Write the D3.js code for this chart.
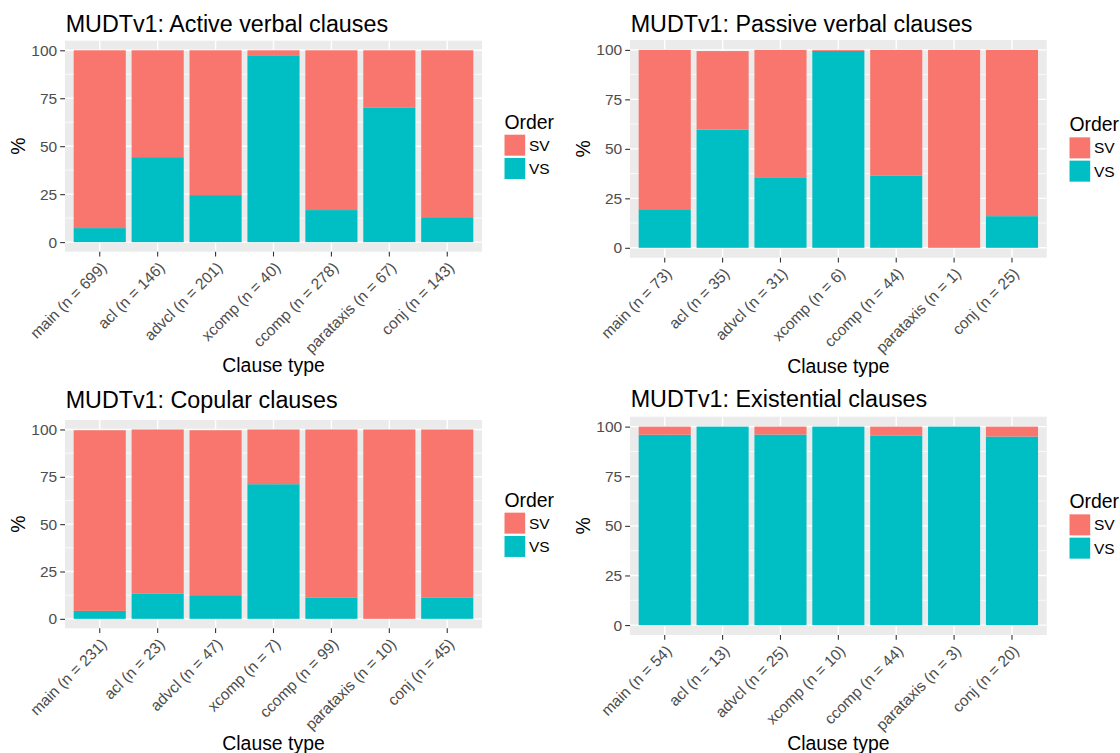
<!DOCTYPE html>
<html>
<head>
<meta charset="utf-8">
<script src="https://cdn.jsdelivr.net/npm/d3@7"></script>
<style>
  html, body { margin: 0; padding: 0; background: #fff; }
  svg { display: block; font-family: "Liberation Sans", Arial, Helvetica, sans-serif; }
</style>
</head>
<body>
<div id="chart"></div>
<script>
// Dades (percentatge de cada ordre per tipus de clàusula)
const activeLabels = ['main (n = 699)', 'acl (n = 146)', 'advcl (n = 201)', 'xcomp (n = 40)', 'ccomp (n = 278)', 'parataxis (n = 67)', 'conj (n = 143)'];
const activeVS = [7.3, 44.3, 24.5, 97.4, 16.7, 70.0, 13.0];
const activeSV = [92.7, 55.7, 75.5, 2.6, 83.3, 30.0, 87.0];

const passiveLabels = ['main (n = 73)', 'acl (n = 35)', 'advcl (n = 31)', 'xcomp (n = 6)', 'ccomp (n = 44)', 'parataxis (n = 1)', 'conj (n = 25)'];
const passiveVS = [19.1, 59.7, 35.3, 99.5, 36.4, 0, 16.0];
const passiveSV = [80.9, 39.7, 64.7, 0.5, 63.6, 100, 84.0];

const copularLabels = ['main (n = 231)', 'acl (n = 23)', 'advcl (n = 47)', 'xcomp (n = 7)', 'ccomp (n = 99)', 'parataxis (n = 10)', 'conj (n = 45)'];
const copularVS = [4.2, 13.2, 12.5, 71.1, 11.1, 0, 11.1];
const copularSV = [95.4, 86.8, 87.1, 28.9, 88.9, 100, 88.9];

const existLabels = ['main (n = 54)', 'acl (n = 13)', 'advcl (n = 25)', 'xcomp (n = 10)', 'ccomp (n = 44)', 'parataxis (n = 3)', 'conj (n = 20)'];
const existVS = [95.9, 100, 96.0, 100, 95.4, 100, 95.0];
const existSV = [4.1, 0, 4.0, 0, 4.6, 0, 5.0];

const orderKeys = ['SV', 'VS'];
const yTicks = [0, 25, 50, 75, 100];
const yMinor = [12.5, 37.5, 62.5, 87.5];

const colors = { SV: '#F8766D', VS: '#00BFC4' };

// Disposició de cada gràfic
const panels = [
    { title: 'MUDTv1: Active verbal clauses', labels: activeLabels, sv: activeSV, vs: activeVS,
      box: { x0: 65, x1: 482, y0: 40.7, y1: 251.7 }, titleY: 32.3, yTitleX: 18, xTitleY: 372.3, legendX: 504.5 },
    { title: 'MUDTv1: Passive verbal clauses', labels: passiveLabels, sv: passiveSV, vs: passiveVS,
      box: { x0: 630, x1: 1046.7, y0: 40, y1: 257.7 }, titleY: 32.3, yTitleX: 583, xTitleY: 373, legendX: 1069.5 },
    { title: 'MUDTv1: Copular clauses', labels: copularLabels, sv: copularSV, vs: copularVS,
      box: { x0: 65, x1: 482, y0: 420, y1: 628.3 }, titleY: 408.3, yTitleX: 18, xTitleY: 750, legendX: 504.5 },
    { title: 'MUDTv1: Existential clauses', labels: existLabels, sv: existSV, vs: existVS,
      box: { x0: 630, x1: 1046.7, y0: 416.7, y1: 635 }, titleY: 406.7, yTitleX: 583, xTitleY: 750, legendX: 1069.5 }
];

const svg = d3.select('#chart')
    .append('svg')
    .attr('width', 1120)
    .attr('height', 753);

panels.forEach(p => {
    const b = p.box;
    const g = svg.append('g');

    const x = d3.scaleBand()
        .domain(p.labels)
        .range([b.x0, b.x1])
        .paddingInner(0.1)
        .paddingOuter(0.15);

    const y = d3.scaleLinear()
        .domain([-5, 105])
        .range([b.y1, b.y0]);

    // Fons del panell
    g.append('rect')
        .attr('x', b.x0)
        .attr('y', b.y0)
        .attr('width', b.x1 - b.x0)
        .attr('height', b.y1 - b.y0)
        .attr('fill', '#EBEBEB');

    // Quadrícula
    g.selectAll('.minor')
        .data(yMinor)
        .enter()
        .append('line')
        .attr('x1', b.x0).attr('x2', b.x1)
        .attr('y1', d => y(d)).attr('y2', d => y(d))
        .attr('stroke', '#fff')
        .attr('stroke-width', 0.7);

    g.selectAll('.major')
        .data(yTicks)
        .enter()
        .append('line')
        .attr('x1', b.x0).attr('x2', b.x1)
        .attr('y1', d => y(d)).attr('y2', d => y(d))
        .attr('stroke', '#fff')
        .attr('stroke-width', 1.4);

    g.selectAll('.vgrid')
        .data(p.labels)
        .enter()
        .append('line')
        .attr('x1', d => x(d) + x.bandwidth() / 2)
        .attr('x2', d => x(d) + x.bandwidth() / 2)
        .attr('y1', b.y0).attr('y2', b.y1)
        .attr('stroke', '#fff')
        .attr('stroke-width', 1.4);

    // Barres apilades (VS a baix, SV a dalt)
    const rows = p.labels.map((label, i) => ({ label, SV: p.sv[i], VS: p.vs[i] }));
    const stacked = d3.stack().keys(['VS', 'SV'])(rows);

    stacked.forEach(layer => {
        g.selectAll(null)
            .data(layer)
            .enter()
            .append('rect')
            .attr('x', d => x(d.data.label))
            .attr('width', x.bandwidth())
            .attr('y', d => y(d[1]))
            .attr('height', d => Math.max(0, y(d[0]) - y(d[1])))
            .attr('fill', colors[layer.key]);
    });

    // Eix Y
    const yAxis = g.append('g')
        .attr('transform', `translate(${b.x0},0)`)
        .call(d3.axisLeft(y).tickValues(yTicks).tickSize(4.8).tickPadding(3));
    yAxis.select('.domain').remove();
    yAxis.selectAll('.tick line').attr('stroke', '#333').attr('stroke-width', 1.1);
    yAxis.selectAll('.tick text')
        .attr('fill', '#4D4D4D')
        .attr('font-size', '15.5px')
        .attr('font-family', '"Liberation Sans", Arial, sans-serif');

    // Eix X
    const xAxis = g.append('g')
        .attr('transform', `translate(0,${b.y1})`)
        .call(d3.axisBottom(x).tickSize(4.8).tickSizeOuter(0));
    xAxis.select('.domain').remove();
    xAxis.selectAll('.tick line').attr('stroke', '#333').attr('stroke-width', 1.1);
    xAxis.selectAll('.tick text')
        .attr('fill', '#4D4D4D')
        .attr('font-size', '15.5px')
        .attr('font-family', '"Liberation Sans", Arial, sans-serif')
        .attr('text-anchor', 'end')
        .attr('y', 0)
        .attr('dy', '0.72em')
        .attr('transform', 'translate(0,9) rotate(-45)');

    // Títols
    g.append('text')
        .attr('x', b.x0 + 0.7)
        .attr('y', p.titleY)
        .attr('font-size', '23.3px')
        .attr('fill', '#000')
        .text(p.title);

    g.append('text')
        .attr('transform', `translate(${p.yTitleX + 7},${(b.y0 + b.y1) / 2}) rotate(-90)`)
        .attr('text-anchor', 'middle')
        .attr('font-size', '19.4px')
        .attr('fill', '#000')
        .text('%');

    g.append('text')
        .attr('x', (b.x0 + b.x1) / 2)
        .attr('y', p.xTitleY)
        .attr('text-anchor', 'middle')
        .attr('font-size', '19.4px')
        .attr('fill', '#000')
        .text('Clause type');

    // Llegenda
    const cy = (b.y0 + b.y1) / 2;
    const legend = g.append('g')
        .attr('transform', `translate(${p.legendX},${cy - 32})`);

    legend.append('text')
        .attr('x', 0)
        .attr('y', 14.5)
        .attr('font-size', '19.4px')
        .attr('fill', '#000')
        .text('Order');

    const item = legend.selectAll('.key')
        .data(orderKeys)
        .enter()
        .append('g')
        .attr('transform', (d, i) => `translate(0,${20.5 + i * 23.3})`);

    item.append('rect')
        .attr('width', 20.7)
        .attr('height', 21)
        .attr('fill', d => colors[d]);

    item.append('text')
        .attr('x', 24.5)
        .attr('y', 10.5)
        .attr('dy', '0.35em')
        .attr('font-size', '15.5px')
        .attr('fill', '#000')
        .text(d => d);
});
</script>
</body>
</html>
